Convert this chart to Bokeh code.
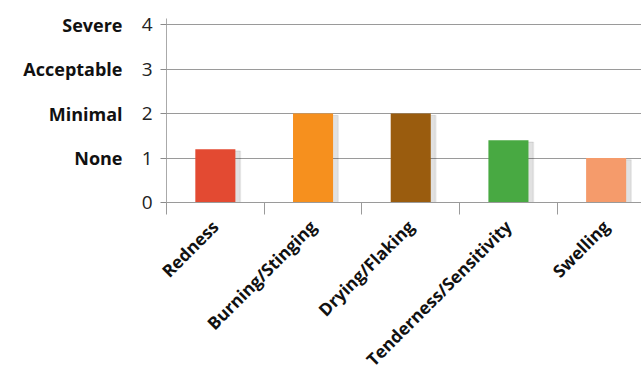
import math
from bokeh.plotting import figure
from bokeh.models import Range1d, FixedTicker, LinearAxis, ColumnDataSource
from bokeh.embed import file_html
from bokeh.resources import INLINE

categories = ["Redness", "Burning/Stinging", "Drying/Flaking", "Tenderness/Sensitivity", "Swelling"]
values = [1.2, 2.0, 2.0, 1.4, 1.0]
bar_colors = ["#E34A32", "#F6901E", "#9A5C0E", "#48A942", "#F59B6B"]
y_ticks = [0, 1, 2, 3, 4]
severity_levels = [1, 2, 3, 4]
severity_labels = ["None", "Minimal", "Acceptable", "Severe"]

xs = [i + 0.5 for i in range(len(categories))]
bounds = list(range(len(categories) + 1))
src = ColumnDataSource(dict(x=xs, top=values, color=bar_colors, cat=categories))
shadow_src = ColumnDataSource(dict(x=[x + 0.045 for x in xs], top=[v - 0.04 for v in values]))

p = figure(width=641, height=381, x_range=Range1d(0, 4.862), y_range=Range1d(0, 4.14),
           output_backend="svg", toolbar_location=None, x_axis_location=None,
           min_border_left=166, min_border_right=0, min_border_top=18, min_border_bottom=179)
p.outline_line_color = None
p.background_fill_color = "white"
p.border_fill_color = "white"

p.xgrid.grid_line_color = None
p.ygrid.grid_line_color = "#9a9a9a"
p.ygrid.grid_line_width = 1

p.vbar(x="x", top="top", width=0.43, source=shadow_src, color="black", alpha=0.06)
p.vbar(x="x", top="top", width=0.41, source=shadow_src, color="black", alpha=0.06)
p.vbar(x="x", top="top", width=0.41, source=src, fill_color="color", line_color=None)

# y axis (numbers)
ya = p.yaxis[0]
ya.ticker = FixedTicker(ticks=y_ticks)
ya.major_tick_out = 6
ya.major_tick_in = 0
ya.minor_tick_line_color = None
ya.axis_line_color = "#aaaaaa"
ya.major_tick_line_color = "#8a8a8a"
ya.major_label_text_font = "Open Sans"
ya.major_label_text_font_size = "19px"
ya.major_label_text_color = "#222222"
ya.major_label_standoff = 8

# y axis (severity words)
wa = LinearAxis(ticker=FixedTicker(ticks=severity_levels),
                major_label_overrides={lvl: txt for lvl, txt in zip(severity_levels, severity_labels)})
wa.axis_line_color = None
wa.major_tick_line_color = None
wa.minor_tick_line_color = None
wa.major_tick_out = 0
wa.major_tick_in = 0
wa.major_label_standoff = 16
wa.major_label_text_font = "Open Sans"
wa.major_label_text_font_style = "bold"
wa.major_label_text_font_size = "18px"
wa.major_label_text_color = "#111111"
p.add_layout(wa, "left")

# x axis: category names at centres, boundary ticks as minor ticks
ca = LinearAxis(ticker=FixedTicker(ticks=xs, minor_ticks=bounds),
                major_label_overrides={x: c for x, c in zip(xs, categories)})
ca.axis_line_color = "#9a9a9a"
ca.major_tick_line_color = None
ca.major_tick_out = 0
ca.major_tick_in = 0
ca.minor_tick_line_color = "#9a9a9a"
ca.minor_tick_out = 12
ca.minor_tick_in = 0
ca.major_label_standoff = 9
ca.major_label_orientation = math.pi / 4
ca.major_label_text_font = "Open Sans"
ca.major_label_text_font_style = "bold"
ca.major_label_text_font_size = "17.3px"
ca.major_label_text_color = "#111111"
p.add_layout(ca, "below")

open("out.html", "w").write(file_html(p, INLINE))
